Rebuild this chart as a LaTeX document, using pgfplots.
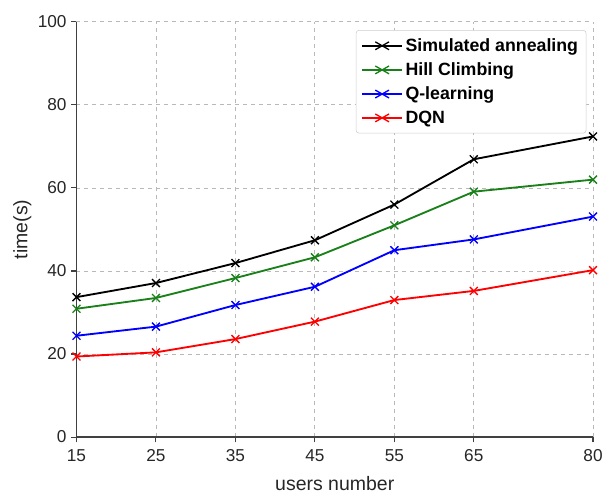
\documentclass[border=0pt]{standalone}
\usepackage{pgfplots}
\pgfplotsset{compat=1.18}
\usepackage{fontspec}
\setmainfont{Liberation Sans}
\begin{document}
\begin{tikzpicture}[x=1pt,y=1pt]
\begin{axis}[
  scale only axis,
  width=390pt, height=313.5pt,
  xmin=15, xmax=80, ymin=0, ymax=100,
  xtick={15,25,35,45,55,65,80},
  ytick={0,20,40,60,80,100},
  axis x line*=bottom, axis y line*=left,
  axis line style={draw=black!75, line width=0.9pt},
  tick style={draw=black!75, line width=0.8pt},
  tick align=outside, major tick length=4pt,
  xtick pos=bottom, ytick pos=left,
  grid=major,
  major grid style={dashed, gray!55, line width=0.6pt},
  /pgf/number format/assume math mode=true,
  ticklabel style={font=\fontsize{13}{15}\selectfont, text=black!85},
  xticklabel style={yshift=-2pt},
  xlabel={users number}, ylabel={time(s)},
  label style={font=\fontsize{14.7}{17}\selectfont, text=black!85},
  xlabel style={yshift=-4pt},
  ylabel style={yshift=-2pt},
  every axis plot/.append style={line width=1.4pt, mark=x, mark size=4.2pt, mark options={line width=1.0pt}},
  legend style={at={(rel axis cs:0.987,0.98)}, anchor=north east, draw=black!20, fill=white, rounded corners=2pt,
    font=\bfseries\fontsize{13.4}{15}\selectfont, row sep=3pt, inner xsep=4pt, inner ysep=4pt},
  legend cell align=left,
  legend image post style={xscale=1.75},
  clip=false,
]
\addplot[color=black] coordinates {(15,33.7) (25,37.1) (35,41.9) (45,47.4) (55,56.0) (65,66.9) (80,72.4)};
\addlegendentry{Simulated annealing}
\addplot[color={rgb,255:red,26;green,128;blue,26}] coordinates {(15,30.9) (25,33.5) (35,38.3) (45,43.3) (55,51.0) (65,59.1) (80,62.0)};
\addlegendentry{Hill Climbing}
\addplot[color=blue] coordinates {(15,24.4) (25,26.6) (35,31.8) (45,36.2) (55,45.0) (65,47.6) (80,53.1)};
\addlegendentry{Q-learning}
\addplot[color=red] coordinates {(15,19.4) (25,20.4) (35,23.6) (45,27.8) (55,33.0) (65,35.2) (80,40.2)};
\addlegendentry{DQN}
\coordinate (O) at (rel axis cs:0,0);
\coordinate (T) at (rel axis cs:1,1);
\end{axis}
\path ([shift={(-57.75pt,-36pt)}]O) rectangle ([shift={(7.5pt,16.5pt)}]T);
\end{tikzpicture}
\end{document}
